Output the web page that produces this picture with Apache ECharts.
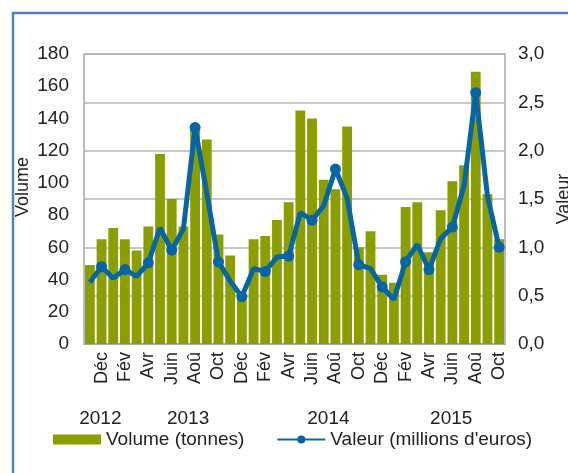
<!DOCTYPE html>
<html>
<head>
<meta charset="utf-8">
<script src="https://cdn.jsdelivr.net/npm/echarts@6/dist/echarts.min.js"></script>
<style>
  html, body { margin: 0; padding: 0; background: #fff; }
  #main { width: 568px; height: 473px; }
</style>
</head>
<body>
<div id="main"></div>
<script>
  // mois de nov. 2012 à oct. 2015
  const months = [
    "Nov", "Déc",
    "Jan", "Fév", "Mar", "Avr", "Mai", "Juin", "Juil", "Aoû", "Sep", "Oct", "Nov", "Déc",
    "Jan", "Fév", "Mar", "Avr", "Mai", "Juin", "Juil", "Aoû", "Sep", "Oct", "Nov", "Déc",
    "Jan", "Fév", "Mar", "Avr", "Mai", "Juin", "Juil", "Aoû", "Sep", "Oct"
  ];
  const volume = [
    49, 65,
    72, 65, 58, 73, 118, 90, 73, 134, 127, 68, 55, 30,
    65, 67, 77, 88, 145, 140, 102, 96, 135, 60, 70, 43,
    38, 85, 88, 57, 83, 101, 111, 169, 93, 65
  ];
  const valeur = [
    0.64, 0.80,
    0.68, 0.77, 0.70, 0.84, 1.20, 0.97, 1.19, 2.24, 1.56, 0.85, 0.65, 0.49,
    0.78, 0.75, 0.90, 0.91, 1.36, 1.28, 1.43, 1.81, 1.51, 0.82, 0.78, 0.59,
    0.46, 0.85, 1.03, 0.77, 1.09, 1.21, 1.64, 2.60, 1.53, 1.00
  ];
  // années et position de leur libellé (en mois depuis le début)
  const years = ["2012", "2013", "2014", "2015"];
  const yearPos = [1.4, 8.9, 20.9, 31.4];

  const font = "Liberation Sans, Arial, sans-serif";
  const txt = "#222";

  const chart = echarts.init(document.getElementById("main"));
  chart.setOption({
    animation: false,
    textStyle: { fontFamily: font },
    graphic: [{
      type: "rect",
      shape: { x: 13, y: 13, width: 700, height: 600 },
      style: { fill: "none", stroke: "#4f81bd", lineWidth: 2.5 }
    }],
    grid: {
      left: 84, right: 63, top: 54, bottom: 129,
      show: true, borderColor: "#a6a6a6", borderWidth: 1.5,
      containLabel: false,
      outerBoundsMode: "none"
    },
    legend: {
      left: 48, top: 425,
      itemWidth: 48, itemHeight: 10, itemGap: 32,
      textStyle: { fontSize: 19, color: txt, fontFamily: font },
      data: [
        { name: "Volume (tonnes)", icon: "rect" },
        { name: "Valeur (millions d'euros)" }
      ]
    },
    xAxis: [{
      type: "category",
      data: months,
      axisLine: { lineStyle: { color: "#a6a6a6", width: 1.5 } },
      axisTick: { show: false },
      axisLabel: {
        rotate: 90, fontSize: 18, color: txt, margin: 8,
        interval: (i) => i % 2 === 1
      }
    }, {
      type: "value",
      min: 0, max: 36,
      position: "bottom",
      offset: 57,
      axisLine: { show: false },
      axisTick: { show: false },
      splitLine: { show: false },
      axisLabel: {
        customValues: yearPos,
        fontSize: 19, color: txt, margin: 8,
        formatter: (v) => years[yearPos.indexOf(v)] || ""
      }
    }],
    yAxis: [{
      type: "value",
      min: 0, max: 180, interval: 20,
      name: "Volume",
      nameLocation: "middle",
      nameGap: 52,
      nameMoveOverlap: false,
      nameTextStyle: { fontSize: 18, color: txt, padding: [0, 0, 0, 24] },
      axisLine: { show: false },
      axisTick: { show: false },
      splitLine: { show: false },
      axisLabel: { fontSize: 19, color: txt, margin: 15 }
    }, {
      type: "value",
      min: 0, max: 3, interval: 0.5,
      name: "Valeur",
      nameLocation: "middle",
      nameRotate: 90,
      nameGap: 50,
      nameTextStyle: { fontSize: 18, color: txt },
      axisLine: { show: false },
      axisTick: { show: false },
      splitLine: { show: true, lineStyle: { color: "#b3b3b3", width: 1.5 } },
      axisLabel: {
        fontSize: 19, color: txt, margin: 13,
        formatter: (v) => v.toFixed(1).replace(".", ",")
      }
    }],
    series: [{
      name: "Volume (tonnes)",
      type: "bar",
      data: volume,
      barCategoryGap: "16%",
      itemStyle: { color: "#8a9e00" }
    }, {
      name: "Valeur (millions d'euros)",
      type: "line",
      yAxisIndex: 1,
      data: valeur,
      symbol: "circle",
      symbolSize: 11,
      lineStyle: { color: "#0865a3", width: 5 },
      itemStyle: { color: "#0865a3" }
    }]
  });
</script>
</body>
</html>
